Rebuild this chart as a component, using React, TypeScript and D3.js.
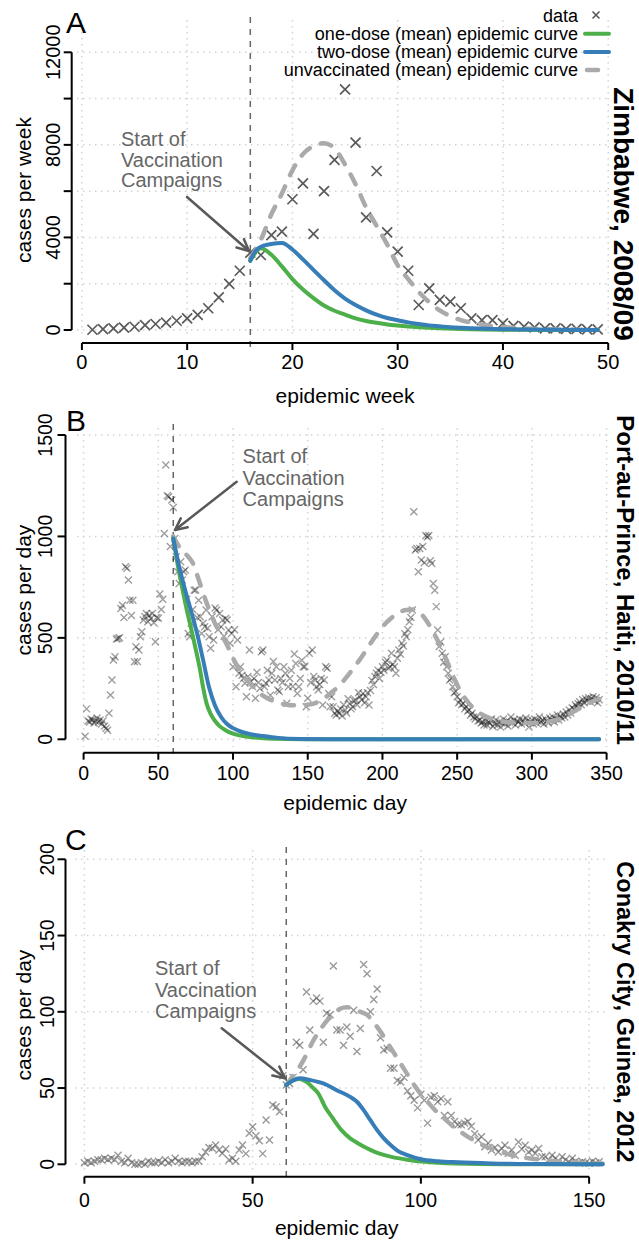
import React from "react";
import * as d3 from "d3";

type Pt = [number, number];

// ---------------- A: Zimbabwe 2008/09, weekly cases (weeks 1..49) ----------------
const zimWeekCases = [
  10, 40, 70, 100, 140, 210, 260, 320, 400, 500,
  650, 940, 1410, 1990, 2560, 3340, 3240, 4100, 4250, 5650,
  6340, 4150, 6000, 7350, 10400, 8100, 4870, 6870, 4220, 3390,
  2560, 1080, 1800, 1300, 1225, 940, 500, 430, 430, 290,
  175, 145, 115, 70, 70, 45, 45, 30, 30,
];
const zimOneDose: Pt[] = [
  [16, 3000], [16.5, 3350], [17, 3530], [18, 3250], [19, 2750], [20, 2200], [21, 1750],
  [22, 1380], [23, 1060], [24, 830], [25, 660], [26, 500], [27, 390], [28, 310], [29, 240],
  [30, 190], [31, 150], [32, 120], [34, 75], [36, 45], [38, 25], [40, 15], [44, 5], [49, 1],
];
const zimTwoDose: Pt[] = [
  [16, 3000], [16.5, 3420], [17, 3600], [18, 3720], [19, 3760], [20, 3480], [21, 3050],
  [22, 2600], [23, 2150], [24, 1720], [25, 1360], [26, 1080], [27, 850], [28, 660], [29, 520],
  [30, 420], [31, 330], [32, 260], [33, 200], [34, 160], [35, 120], [36, 95], [37, 75],
  [38, 60], [40, 35], [42, 20], [45, 8], [49, 2],
];
const zimUnvacc: Pt[] = [
  [16, 3100], [17, 3900], [18, 5000], [19, 5900], [20, 6900], [21, 7600], [22, 7950],
  [23, 8070], [24, 7850], [25, 7150], [26, 6300], [27, 5300], [28, 4500], [29, 3700],
  [30, 2800], [31, 2200], [32, 1650], [33, 1200], [34, 850], [35, 600], [36, 430],
  [37, 320], [38, 240], [39, 180], [40, 130], [42, 70], [44, 35], [47, 15], [49, 8],
];
const zimXTicks = [0, 10, 20, 30, 40, 50];
const zimYTicks = [0, 2000, 4000, 6000, 8000, 10000, 12000];
const zimYLabels = [0, 4000, 8000, 12000];
const zimVaccWeek = 16;

// ---------------- B: Port-au-Prince 2010/11, daily cases (days 1..345) ----------------
const haitiDayCases = [
  15, 150, 90, 85, 100, 95, 80, 90, 105, 85,
  95, 75, 90, 65, 54, 45, 128, 218, 292, 391,
  407, 495, 497, 500, 645, 661, 600, 850, 843, 785,
  686, 610, 686, 382, 456, 383, 440, 505, 530, 588,
  605, 620, 580, 610, 595, 620, 575, 481, 600, 597,
  716, 640, 690, 1015, 1352, 1200, 1196, 950, 1180, 1143,
  990, 900, 826, 768, 875, 785, 826, 834, 690, 522,
  506, 572, 640, 735, 736, 600, 686, 604, 522, 572,
  555, 637, 547, 506, 449, 604, 489, 647, 637, 540,
  620, 555, 588, 508, 596, 588, 539, 473, 522, 358,
  540, 259, 490, 325, 358, 316, 300, 276, 210, 310,
  440, 285, 260, 300, 202, 330, 280, 250, 432, 440,
  259, 276, 340, 292, 217, 325, 383, 292, 358, 243,
  235, 300, 280, 358, 325, 178, 259, 300, 340, 260,
  420, 374, 226, 259, 300, 390, 358, 358, 161, 202,
  424, 280, 440, 309, 292, 259, 243, 270, 300, 169,
  292, 358, 350, 226, 161, 210, 161, 128, 120, 140,
  128, 150, 115, 170, 145, 130, 200, 177, 150, 161,
  190, 194, 170, 230, 210, 195, 226, 180, 210, 230,
  169, 240, 290, 270, 309, 325, 341, 300, 330, 358,
  340, 380, 390, 350, 358, 424, 370, 358, 325, 400,
  440, 420, 473, 460, 520, 506, 540, 580, 600, 637,
  1122, 933, 941, 826, 941, 884, 950, 870, 1005, 997,
  1005, 880, 867, 768, 735, 654, 539, 457, 480, 424,
  380, 407, 358, 325, 292, 300, 259, 230, 235, 210,
  180, 194, 170, 177, 150, 161, 140, 145, 120, 128,
  110, 100, 112, 90, 95, 80, 87, 70, 90, 71,
  85, 79, 100, 63, 75, 95, 70, 85, 60, 80,
  100, 75, 90, 65, 85, 110, 80, 95, 70, 90,
  85, 100, 75, 95, 80, 105, 90, 60, 85, 95,
  75, 100, 80, 90, 110, 85, 95, 75, 100, 90,
  80, 105, 95, 110, 85, 100, 120, 95, 115, 105,
  125, 110, 135, 120, 145, 130, 155, 150, 170, 160,
  175, 185, 170, 195, 180, 200, 190, 205, 185, 200,
  210, 190, 205, 180, 195,
];
const haitiOneDose: Pt[] = [
  [60, 990], [63, 860], [66, 745], [69, 640], [72, 545], [75, 445], [78, 340], [80, 255],
  [82.3, 177], [85, 125], [88, 90], [91, 65], [95, 45], [100, 28], [105, 18], [110, 12],
  [120, 5], [135, 1.5], [160, 0.3], [345, 0],
];
const haitiTwoDose: Pt[] = [
  [60, 990], [64, 850], [68, 735], [72, 630], [76, 520], [80, 390], [84, 255], [88, 165],
  [92, 110], [96, 75], [100, 55], [106, 36], [112, 25], [120, 16], [130, 7], [145, 2],
  [170, 0.4], [345, 0],
];
const haitiUnvacc: Pt[] = [
  [60, 1000], [63, 960], [66, 930], [70, 900], [73, 870], [76, 810], [80, 720], [84, 640],
  [88, 570], [92, 520], [96, 465], [100, 400], [104, 345], [108, 305], [112, 270],
  [116, 240], [120, 215], [125, 195], [130, 180], [135, 172], [140, 168], [145, 168],
  [150, 170], [155, 178], [160, 198], [165, 225], [170, 258], [175, 298], [180, 345],
  [185, 395], [190, 450], [195, 505], [200, 555], [205, 592], [210, 620], [215, 636],
  [220, 640], [225, 625], [228, 600], [232, 555], [236, 500], [240, 440], [244, 370],
  [248, 300], [252, 240], [256, 195], [260, 160], [265, 130], [270, 110], [275, 95],
  [280, 88], [290, 82], [300, 80], [310, 85], [320, 105], [330, 145], [340, 185], [345, 200],
];
const haitiXTicks = [0, 50, 100, 150, 200, 250, 300, 350];
const haitiYTicks = [0, 500, 1000, 1500];
const haitiVaccDay = 60;

// ---------------- C: Conakry City 2012, daily cases (days 0..153) ----------------
const conakryDayCases = [
  1, 2, 1, 2, 3, 3, 4, 3, 4, 3,
  6, 2, 1, 4, 1, 0, 0, 1, 0, 2,
  1, 1, 2, 1, 3, 1, 2, 4, 2, 1,
  2, 2, 1, 2, 2, 5, 8, 11, 10.5, 12.6,
  9.4, 7.2, 10, 2.8, 4, 2, 9.4, 12.6, 7, 20.3,
  24.6, 18.7, 15.4, 7, 29, 16, 38.9, 37.8, 34.5, 58,
  52, 53, 57, 80, 78, 62, 113, 88, 107, 109,
  107, 80, 99, 98, 130, 88, 88, 78, 90, 84,
  101, 74, 89, 131, 125, 100, 108, 115, 83, 75,
  76, 63, 63, 55, 54, 57, 48, 45, 42, 37,
  46, 42, 27, 44, 45, 41, 43, 32, 41, 32,
  28, 26, 26, 27, 28, 25, 20, 16, 18, 11.5,
  14, 9.3, 11, 8, 10.4, 12.5, 7, 9.3, 6, 14.7,
  10, 12.5, 8, 9.3, 7.2, 10.4, 5, 5, 3, 6,
  4, 2, 5, 3, 1.7, 4, 2, 1, 1.7, 1,
  0.7, 2, 1, 1.7,
];
const conakryOneDose: Pt[] = [
  [60, 52], [62, 55], [64, 56], [66, 54], [68, 50], [69.5, 46.5], [71.5, 37.8], [73.5, 31.2],
  [76.4, 22.4], [79, 17], [81.4, 13.7], [84, 10.5], [86.3, 8.2], [91.3, 4.9], [96, 3],
  [101, 1.6], [110, 0.5], [125, 0.1], [154, 0],
];
const conakryTwoDose: Pt[] = [
  [60, 52], [62, 55], [64, 56.4], [67, 55.3], [71, 53], [75, 48.6], [79, 44.2], [81, 41],
  [83, 35.5], [85, 28.9], [87, 22.4], [89, 17], [91, 12.6], [93, 9], [96, 6], [100, 3.3],
  [105, 2], [111, 1.3], [121, 0.6], [135, 0.2], [154, 0],
];
const conakryUnvacc: Pt[] = [
  [60, 52], [62, 58], [64, 64], [66, 72], [68, 81], [70, 88], [72, 94], [74, 98], [76, 102],
  [78, 103], [80, 102], [82, 100], [84, 98], [86, 93], [88, 87], [90, 80], [92, 73],
  [94, 66], [96, 59], [98, 52], [100, 46], [102, 41], [104, 36], [106, 32], [108, 28],
  [110, 24], [112, 21], [114, 18], [116, 15.5], [118, 13], [120, 11], [124, 8], [128, 5.5],
  [132, 4], [136, 3], [140, 2], [145, 1.3], [150, 0.8], [154, 0.5],
];
const conakryXTicks = [0, 50, 100, 150];
const conakryYTicks = [0, 50, 100, 150, 200];
const conakryVaccDay = 60;

const legendLabels = [
  "data",
  "one-dose (mean) epidemic curve",
  "two-dose (mean) epidemic curve",
  "unvaccinated (mean) epidemic curve",
];
const noteLines = ["Start of", "Vaccination", "Campaigns"];

const GREEN = "#4DAF4A";
const BLUE = "#377EB8";
const GREY = "#AAAAAA";
const GRID = "#D3D3D3";
const FONT = "'Liberation Sans', Arial, Helvetica, sans-serif";

function cross(x: number, y: number, s: number) {
  return `M${x - s},${y - s}L${x + s},${y + s}M${x - s},${y + s}L${x + s},${y - s}`;
}

function Arrow({ from, to }: { from: Pt; to: Pt }) {
  const ang = Math.atan2(to[1] - from[1], to[0] - from[0]);
  const L = 13, a = Math.PI / 7;
  const p1 = [to[0] - L * Math.cos(ang - a), to[1] - L * Math.sin(ang - a)];
  const p2 = [to[0] - L * Math.cos(ang + a), to[1] - L * Math.sin(ang + a)];
  return (
    <g stroke="#595959" strokeWidth={2.5} fill="none" strokeLinecap="round" strokeLinejoin="round">
      <line x1={from[0]} y1={from[1]} x2={to[0]} y2={to[1]} />
      <path d={`M${p1[0]},${p1[1]}L${to[0]},${to[1]}L${p2[0]},${p2[1]}`} />
    </g>
  );
}

function Panel(props: any) {
  const { L, cases, oneDose, twoDose, unvacc, xTicks, yTicks, yLabels, vacc } = props;
  const x = d3.scaleLinear().domain(L.xDomain).range(L.xRange);
  const y = d3.scaleLinear().domain(L.yDomain).range(L.yRange);
  const line = d3.line<Pt>().x(d => x(d[0])).y(d => y(d[1])).curve(d3.curveMonotoneX);
  const m = L.mark;

  return (
    <g fontFamily={FONT}>
      {/* grid */}
      {yTicks.map((t: number) => (
        <line key={"gy" + t} x1={L.gridLeft} x2={L.gridRight} y1={y(t)} y2={y(t)}
          stroke={GRID} strokeWidth={1.5} strokeDasharray="1.5 4.5" />
      ))}
      {xTicks.map((t: number) => (
        <line key={"gx" + t} x1={x(t)} x2={x(t)} y1={L.gridTop} y2={L.gridBottom}
          stroke={GRID} strokeWidth={1.5} strokeDasharray="1.5 4.5" />
      ))}

      {/* start of vaccination */}
      <line x1={x(vacc)} x2={x(vacc)} y1={L.vTop} y2={L.vBottom}
        stroke="#666" strokeWidth={1.5} strokeDasharray="6 6" />

      {/* data, one path per cross so that overlaps darken */}
      <g stroke={m.color} strokeOpacity={m.opacity} strokeWidth={m.w} fill="none">
        {cases.map((d: Pt, i: number) => (
          <path key={i} d={cross(x(d[0]), y(d[1]), m.s)} />
        ))}
      </g>

      {/* model curves */}
      <path d={line(unvacc) || ""} stroke={GREY} strokeWidth={4.5} fill="none"
        strokeDasharray="11 12" strokeLinecap="round" />
      <path d={line(oneDose) || ""} stroke={GREEN} strokeWidth={4} fill="none" strokeLinecap="round" />
      <path d={line(twoDose) || ""} stroke={BLUE} strokeWidth={4} fill="none" strokeLinecap="round" />

      {/* axes */}
      <g stroke="#000" strokeWidth={2} fill="none">
        <line x1={x(xTicks[0])} x2={x(xTicks[xTicks.length - 1])} y1={L.xAxisY} y2={L.xAxisY} />
        {xTicks.map((t: number) => (
          <line key={"xt" + t} x1={x(t)} x2={x(t)} y1={L.xAxisY} y2={L.xAxisY + 7} />
        ))}
        <line x1={L.yAxisX} x2={L.yAxisX} y1={y(yTicks[0])} y2={y(yTicks[yTicks.length - 1])} />
        {yTicks.map((t: number) => (
          <line key={"yt" + t} x1={L.yAxisX - 8} x2={L.yAxisX} y1={y(t)} y2={y(t)} />
        ))}
      </g>
      {xTicks.map((t: number) => (
        <text key={"xl" + t} x={x(t)} y={L.xTickLabelY} fontSize={L.tickSize} textAnchor="middle">{t}</text>
      ))}
      {yLabels.map((t: number) => (
        <text key={"yl" + t} transform={`translate(${L.yTickLabelX},${y(t)}) rotate(-90)`}
          dy="0.36em" fontSize={L.tickSize} textAnchor="middle">{t}</text>
      ))}

      {/* axis titles */}
      <text x={(L.xRange[0] + L.xRange[1]) / 2} y={L.xlabY} fontSize={21} textAnchor="middle">{L.xlab}</text>
      <text transform={`translate(${L.ylabX},${L.ylabY}) rotate(-90)`} dy="0.36em" fontSize={21}
        textAnchor="middle">{L.ylab}</text>

      {/* panel letter and side title */}
      <text x={L.letterX} y={L.letterY} fontSize={30}>{L.letter}</text>
      <text transform={`translate(${L.titleX},${L.titleY}) rotate(90)`} dy="0.34em"
        fontSize={L.titleSize} fontWeight="bold" textAnchor="middle">{L.title}</text>

      {/* annotation */}
      {noteLines.map((s, i) => (
        <text key={s} x={L.noteX} y={L.noteY[i]} fontSize={20} fill="#666">{s}</text>
      ))}
      <Arrow from={L.arrow[0]} to={L.arrow[1]} />
    </g>
  );
}

const layoutA = {
  letter: "A", letterX: 66, letterY: 33,
  title: "Zimbabwe, 2008/09", titleX: 624, titleY: 214, titleSize: 28,
  xDomain: [0, 50], xRange: [81.9, 608.2], yDomain: [0, 12000], yRange: [330, 52.3],
  xAxisY: 343, yAxisX: 71.7, xTickLabelY: 368.5, yTickLabelX: 53, tickSize: 20,
  gridLeft: 77, gridRight: 610, gridTop: 20, gridBottom: 337, vTop: 17, vBottom: 349,
  xlab: "epidemic week", ylab: "cases per week", ylabX: 23, ylabY: 190, xlabY: 403,
  noteX: 121, noteY: [145.7, 166.7, 187.3], arrow: [[187, 197], [249, 251]],
  mark: { s: 5, color: "#5a5a5a", opacity: 1, w: 1.7 },
};
const layoutB = {
  letter: "B", letterX: 66, letterY: 431,
  title: "Port-au-Prince, Haiti, 2010/11", titleX: 625, titleY: 580, titleSize: 24,
  xDomain: [0, 350], xRange: [83.6, 606.6], yDomain: [0, 1500], yRange: [739.3, 435],
  xAxisY: 752.7, yAxisX: 65.5, xTickLabelY: 780, yTickLabelX: 45, tickSize: 19.5,
  gridLeft: 77, gridRight: 607, gridTop: 428, gridBottom: 747, vTop: 424, vBottom: 754,
  xlab: "epidemic day", ylab: "cases per day", ylabX: 23, ylabY: 590, xlabY: 810,
  noteX: 242.6, noteY: [463.3, 485, 505.5], arrow: [[236.7, 481.7], [175, 530]],
  mark: { s: 3.5, color: "#000", opacity: 0.38, w: 1.4 },
};
const layoutC = {
  letter: "C", letterX: 65, letterY: 850,
  title: "Conakry City, Guinea, 2012", titleX: 625, titleY: 1012, titleSize: 23.5,
  xDomain: [0, 150], xRange: [84.4, 589.1], yDomain: [0, 200], yRange: [1164.3, 859.3],
  xAxisY: 1176.7, yAxisX: 65.5, xTickLabelY: 1206.7, yTickLabelX: 47, tickSize: 19.5,
  gridLeft: 75, gridRight: 609, gridTop: 850, gridBottom: 1172, vTop: 847, vBottom: 1178,
  xlab: "epidemic day", ylab: "cases per day", ylabX: 23, ylabY: 1015, xlabY: 1235,
  noteX: 155, noteY: [975, 996.7, 1018.3], arrow: [[221.7, 1028.3], [285, 1078.3]],
  mark: { s: 3.5, color: "#555", opacity: 0.6, w: 1.4 },
};

function Legend() {
  const right = 578;
  const rows = [21.5, 39.7, 57.9, 76.1];
  return (
    <g fontFamily={FONT} fontSize={18}>
      {legendLabels.map((s, i) => (
        <text key={s} x={right} y={rows[i]} textAnchor="end">{s}</text>
      ))}
      <path d={cross(596, rows[0] - 6.5, 3.5)} stroke="#5a5a5a" strokeWidth={1.6} fill="none" />
      <line x1={585} x2={609} y1={rows[1] - 6} y2={rows[1] - 6} stroke={GREEN} strokeWidth={4} strokeLinecap="round" />
      <line x1={585} x2={609} y1={rows[2] - 6} y2={rows[2] - 6} stroke={BLUE} strokeWidth={4} strokeLinecap="round" />
      <line x1={587} x2={609} y1={rows[3] - 6} y2={rows[3] - 6} stroke={GREY} strokeWidth={4.5}
        strokeDasharray="11 12" strokeLinecap="round" />
    </g>
  );
}

export default function App() {
  const zimCases: Pt[] = zimWeekCases.map((v, i) => [i + 1, v]);
  const haitiCases: Pt[] = haitiDayCases.map((v, i) => [i + 1, v]);
  const conakryCases: Pt[] = conakryDayCases.map((v, i) => [i, v]);
  return (
    <svg width={639} height={1243} style={{ position: "absolute", left: 0, top: 0, background: "#fff" }}>
      <rect width={639} height={1243} fill="#fff" />
      <Panel L={layoutA} cases={zimCases} oneDose={zimOneDose} twoDose={zimTwoDose} unvacc={zimUnvacc}
        xTicks={zimXTicks} yTicks={zimYTicks} yLabels={zimYLabels} vacc={zimVaccWeek} />
      <Legend />
      <Panel L={layoutB} cases={haitiCases} oneDose={haitiOneDose} twoDose={haitiTwoDose} unvacc={haitiUnvacc}
        xTicks={haitiXTicks} yTicks={haitiYTicks} yLabels={haitiYTicks} vacc={haitiVaccDay} />
      <Panel L={layoutC} cases={conakryCases} oneDose={conakryOneDose} twoDose={conakryTwoDose} unvacc={conakryUnvacc}
        xTicks={conakryXTicks} yTicks={conakryYTicks} yLabels={conakryYTicks} vacc={conakryVaccDay} />
    </svg>
  );
}
